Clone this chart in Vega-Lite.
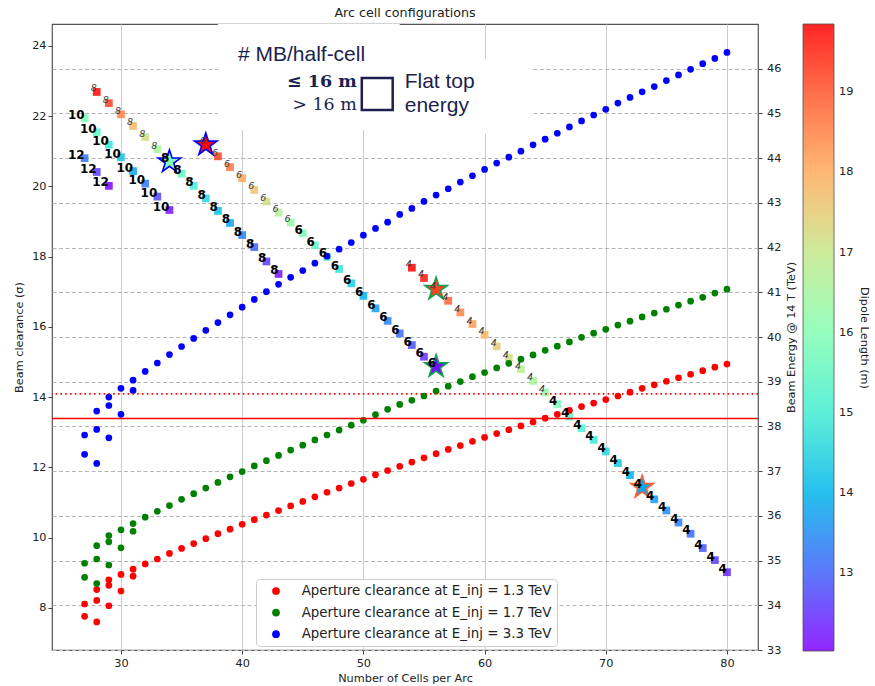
{
"$schema": "https://vega.github.io/schema/vega-lite/v6.json",
"width": 706, "height": 626,
"autosize": {"type": "none"},
"padding": {"left": 52, "top": 24, "right": 117, "bottom": 36},
"title": {"text": "Arc cell configurations", "fontSize": 12.7, "font": "DejaVu Sans", "fontWeight": "normal", "color": "#222", "offset": 4, "anchor": "middle"},
"config": {
  "view": {"stroke": "#555", "strokeWidth": 1.2},
  "font": "DejaVu Sans",
  "axis": {"labelFont": "DejaVu Sans", "titleFont": "DejaVu Sans", "labelFontSize": 11.3, "titleFontSize": 11.3, "titleFontWeight": "normal", "labelColor": "#222", "titleColor": "#222", "tickColor": "#444", "tickSize": 4, "domain": false}
},
"datasets": {
"squares": [
{"N":27,"E":44.00,"L":13.25,"n":12},{"N":28,"E":43.69,"L":12.6,"n":12},{"N":29,"E":43.38,"L":12.05,"n":12},
{"N":27,"E":44.89,"L":15.9,"n":10},{"N":28,"E":44.58,"L":15.35,"n":10},{"N":29,"E":44.30,"L":14.8,"n":10},{"N":30,"E":44.02,"L":14.3,"n":10},{"N":31,"E":43.71,"L":13.8,"n":10},{"N":32,"E":43.43,"L":13.25,"n":10},{"N":33,"E":43.14,"L":12.75,"n":10},{"N":34,"E":42.84,"L":12.2,"n":10},
{"N":28,"E":45.48,"L":19.85,"n":8},{"N":29,"E":45.23,"L":19.2,"n":8},{"N":30,"E":44.98,"L":18.5,"n":8},{"N":31,"E":44.72,"L":17.8,"n":8},{"N":32,"E":44.47,"L":17.2,"n":8},{"N":33,"E":44.20,"L":16.6,"n":8},{"N":34,"E":43.92,"L":15.98,"n":8},{"N":35,"E":43.65,"L":15.5,"n":8},{"N":36,"E":43.38,"L":15.0,"n":8},{"N":37,"E":43.10,"L":14.6,"n":8},{"N":38,"E":42.82,"L":14.2,"n":8},{"N":39,"E":42.55,"L":13.8,"n":8},{"N":40,"E":42.28,"L":13.4,"n":8},{"N":41,"E":42.01,"L":13.0,"n":8},{"N":42,"E":41.69,"L":12.6,"n":8},{"N":43,"E":41.41,"L":12.2,"n":8},
{"N":37,"E":44.30,"L":19.8,"n":6},{"N":38,"E":44.04,"L":19.25,"n":6},{"N":39,"E":43.80,"L":18.65,"n":6},{"N":40,"E":43.55,"L":18.05,"n":6},{"N":41,"E":43.29,"L":17.6,"n":6},{"N":42,"E":43.03,"L":17.15,"n":6},{"N":43,"E":42.78,"L":16.7,"n":6},{"N":44,"E":42.56,"L":16.3,"n":6},{"N":45,"E":42.32,"L":15.9,"n":6},{"N":46,"E":42.05,"L":15.5,"n":6},{"N":47,"E":41.79,"L":15.2,"n":6},{"N":48,"E":41.52,"L":14.8,"n":6},{"N":49,"E":41.20,"L":14.4,"n":6},{"N":50,"E":40.92,"L":14.0,"n":6},{"N":51,"E":40.64,"L":13.7,"n":6},{"N":52,"E":40.36,"L":13.4,"n":6},{"N":53,"E":40.08,"L":13.1,"n":6},{"N":54,"E":39.82,"L":12.8,"n":6},{"N":55,"E":39.56,"L":12.5,"n":6},{"N":56,"E":39.34,"L":12.2,"n":6},
{"N":54,"E":41.55,"L":19.85,"n":4},{"N":55,"E":41.32,"L":19.6,"n":4},{"N":56,"E":41.07,"L":19.2,"n":4},{"N":57,"E":40.81,"L":18.9,"n":4},{"N":58,"E":40.55,"L":18.5,"n":4},{"N":59,"E":40.29,"L":18.2,"n":4},{"N":60,"E":40.05,"L":17.9,"n":4},{"N":61,"E":39.79,"L":17.5,"n":4},{"N":62,"E":39.53,"L":17.2,"n":4},{"N":63,"E":39.28,"L":16.8,"n":4},{"N":64,"E":39.02,"L":16.5,"n":4},{"N":65,"E":38.76,"L":16.2,"n":4},{"N":66,"E":38.50,"L":15.9,"n":4},{"N":67,"E":38.22,"L":15.5,"n":4},{"N":68,"E":37.96,"L":15.2,"n":4},{"N":69,"E":37.70,"L":14.9,"n":4},{"N":70,"E":37.44,"L":14.6,"n":4},{"N":71,"E":37.18,"L":14.3,"n":4},{"N":72,"E":36.91,"L":14.0,"n":4},{"N":73,"E":36.64,"L":13.85,"n":4},{"N":74,"E":36.37,"L":13.7,"n":4},{"N":75,"E":36.12,"L":13.5,"n":4},{"N":76,"E":35.85,"L":13.3,"n":4},{"N":77,"E":35.60,"L":13.1,"n":4},{"N":78,"E":35.28,"L":12.9,"n":4},{"N":79,"E":35.01,"L":12.65,"n":4},{"N":80,"E":34.74,"L":12.4,"n":4}
],
"stars": [
{"N":34,"E":43.92,"L":15.98,"inj":"3.3"},{"N":37,"E":44.30,"L":19.8,"inj":"3.3"},{"N":56,"E":41.07,"L":19.2,"inj":"1.7"},{"N":56,"E":39.34,"L":12.2,"inj":"1.7"},{"N":73,"E":36.64,"L":13.85,"inj":"1.3"}
],
"circles": [
{"N":27,"B":8.11,"s":"1.3"},{"N":27,"B":7.76,"s":"1.3"},{"N":28,"B":8.52,"s":"1.3"},{"N":28,"B":8.21,"s":"1.3"},{"N":28,"B":7.60,"s":"1.3"},{"N":29,"B":8.80,"s":"1.3"},{"N":29,"B":8.64,"s":"1.3"},{"N":29,"B":8.06,"s":"1.3"},{"N":30,"B":8.95,"s":"1.3"},{"N":30,"B":8.48,"s":"1.3"},{"N":31,"B":9.10,"s":"1.3"},{"N":31,"B":8.90,"s":"1.3"},
{"N":32,"B":9.25,"s":"1.3"},{"N":33,"B":9.39,"s":"1.3"},{"N":34,"B":9.55,"s":"1.3"},{"N":35,"B":9.69,"s":"1.3"},{"N":36,"B":9.83,"s":"1.3"},{"N":37,"B":9.97,"s":"1.3"},{"N":38,"B":10.11,"s":"1.3"},{"N":39,"B":10.24,"s":"1.3"},{"N":40,"B":10.38,"s":"1.3"},{"N":41,"B":10.51,"s":"1.3"},{"N":42,"B":10.64,"s":"1.3"},{"N":43,"B":10.77,"s":"1.3"},{"N":44,"B":10.90,"s":"1.3"},{"N":45,"B":11.03,"s":"1.3"},{"N":46,"B":11.16,"s":"1.3"},{"N":47,"B":11.29,"s":"1.3"},{"N":48,"B":11.41,"s":"1.3"},{"N":49,"B":11.54,"s":"1.3"},{"N":50,"B":11.66,"s":"1.3"},{"N":51,"B":11.79,"s":"1.3"},{"N":52,"B":11.91,"s":"1.3"},{"N":53,"B":12.03,"s":"1.3"},{"N":54,"B":12.15,"s":"1.3"},{"N":55,"B":12.27,"s":"1.3"},{"N":56,"B":12.39,"s":"1.3"},{"N":57,"B":12.51,"s":"1.3"},{"N":58,"B":12.62,"s":"1.3"},{"N":59,"B":12.74,"s":"1.3"},{"N":60,"B":12.85,"s":"1.3"},{"N":61,"B":12.96,"s":"1.3"},{"N":62,"B":13.07,"s":"1.3"},{"N":63,"B":13.18,"s":"1.3"},{"N":64,"B":13.29,"s":"1.3"},{"N":65,"B":13.40,"s":"1.3"},{"N":66,"B":13.51,"s":"1.3"},{"N":67,"B":13.62,"s":"1.3"},{"N":68,"B":13.73,"s":"1.3"},{"N":69,"B":13.83,"s":"1.3"},{"N":70,"B":13.93,"s":"1.3"},{"N":71,"B":14.03,"s":"1.3"},{"N":72,"B":14.14,"s":"1.3"},{"N":73,"B":14.25,"s":"1.3"},{"N":74,"B":14.35,"s":"1.3"},{"N":75,"B":14.45,"s":"1.3"},{"N":76,"B":14.55,"s":"1.3"},{"N":77,"B":14.65,"s":"1.3"},{"N":78,"B":14.75,"s":"1.3"},{"N":79,"B":14.85,"s":"1.3"},{"N":80,"B":14.94,"s":"1.3"},
{"N":27,"B":9.27,"s":"1.7"},{"N":27,"B":8.87,"s":"1.7"},{"N":28,"B":9.77,"s":"1.7"},{"N":28,"B":9.39,"s":"1.7"},{"N":28,"B":8.69,"s":"1.7"},{"N":29,"B":10.06,"s":"1.7"},{"N":29,"B":9.88,"s":"1.7"},{"N":29,"B":9.22,"s":"1.7"},{"N":30,"B":10.22,"s":"1.7"},{"N":30,"B":9.71,"s":"1.7"},{"N":31,"B":10.40,"s":"1.7"},{"N":31,"B":10.18,"s":"1.7"},
{"N":32,"B":10.58,"s":"1.7"},{"N":33,"B":10.75,"s":"1.7"},{"N":34,"B":10.91,"s":"1.7"},{"N":35,"B":11.09,"s":"1.7"},{"N":36,"B":11.25,"s":"1.7"},{"N":37,"B":11.41,"s":"1.7"},{"N":38,"B":11.57,"s":"1.7"},{"N":39,"B":11.73,"s":"1.7"},{"N":40,"B":11.88,"s":"1.7"},{"N":41,"B":12.04,"s":"1.7"},{"N":42,"B":12.19,"s":"1.7"},{"N":43,"B":12.34,"s":"1.7"},{"N":44,"B":12.49,"s":"1.7"},{"N":45,"B":12.63,"s":"1.7"},{"N":46,"B":12.78,"s":"1.7"},{"N":47,"B":12.92,"s":"1.7"},{"N":48,"B":13.06,"s":"1.7"},{"N":49,"B":13.20,"s":"1.7"},{"N":50,"B":13.34,"s":"1.7"},{"N":51,"B":13.50,"s":"1.7"},{"N":52,"B":13.65,"s":"1.7"},{"N":53,"B":13.79,"s":"1.7"},{"N":54,"B":13.91,"s":"1.7"},{"N":55,"B":14.03,"s":"1.7"},{"N":56,"B":14.17,"s":"1.7"},{"N":57,"B":14.31,"s":"1.7"},{"N":58,"B":14.44,"s":"1.7"},{"N":59,"B":14.58,"s":"1.7"},{"N":60,"B":14.70,"s":"1.7"},{"N":61,"B":14.83,"s":"1.7"},{"N":62,"B":14.96,"s":"1.7"},{"N":63,"B":15.08,"s":"1.7"},{"N":64,"B":15.20,"s":"1.7"},{"N":65,"B":15.33,"s":"1.7"},{"N":66,"B":15.45,"s":"1.7"},{"N":67,"B":15.57,"s":"1.7"},{"N":68,"B":15.70,"s":"1.7"},{"N":69,"B":15.82,"s":"1.7"},{"N":70,"B":15.93,"s":"1.7"},{"N":71,"B":16.05,"s":"1.7"},{"N":72,"B":16.16,"s":"1.7"},{"N":73,"B":16.28,"s":"1.7"},{"N":74,"B":16.39,"s":"1.7"},{"N":75,"B":16.50,"s":"1.7"},{"N":76,"B":16.62,"s":"1.7"},{"N":77,"B":16.73,"s":"1.7"},{"N":78,"B":16.84,"s":"1.7"},{"N":79,"B":16.96,"s":"1.7"},{"N":80,"B":17.07,"s":"1.7"},
{"N":27,"B":12.92,"s":"3.3"},{"N":27,"B":12.37,"s":"3.3"},{"N":28,"B":13.60,"s":"3.3"},{"N":28,"B":13.08,"s":"3.3"},{"N":28,"B":12.11,"s":"3.3"},{"N":29,"B":14.00,"s":"3.3"},{"N":29,"B":13.76,"s":"3.3"},{"N":29,"B":12.84,"s":"3.3"},{"N":30,"B":14.25,"s":"3.3"},{"N":30,"B":13.51,"s":"3.3"},{"N":31,"B":14.48,"s":"3.3"},{"N":31,"B":14.19,"s":"3.3"},
{"N":32,"B":14.73,"s":"3.3"},{"N":33,"B":14.97,"s":"3.3"},{"N":34,"B":15.21,"s":"3.3"},{"N":35,"B":15.44,"s":"3.3"},{"N":36,"B":15.67,"s":"3.3"},{"N":37,"B":15.90,"s":"3.3"},{"N":38,"B":16.12,"s":"3.3"},{"N":39,"B":16.34,"s":"3.3"},{"N":40,"B":16.56,"s":"3.3"},{"N":41,"B":16.78,"s":"3.3"},{"N":42,"B":17.00,"s":"3.3"},{"N":43,"B":17.21,"s":"3.3"},{"N":44,"B":17.41,"s":"3.3"},{"N":45,"B":17.60,"s":"3.3"},{"N":46,"B":17.81,"s":"3.3"},{"N":47,"B":18.01,"s":"3.3"},{"N":48,"B":18.21,"s":"3.3"},{"N":49,"B":18.40,"s":"3.3"},{"N":50,"B":18.61,"s":"3.3"},{"N":51,"B":18.80,"s":"3.3"},{"N":52,"B":18.98,"s":"3.3"},{"N":53,"B":19.20,"s":"3.3"},{"N":54,"B":19.37,"s":"3.3"},{"N":55,"B":19.57,"s":"3.3"},{"N":56,"B":19.75,"s":"3.3"},{"N":57,"B":19.93,"s":"3.3"},{"N":58,"B":20.12,"s":"3.3"},{"N":59,"B":20.30,"s":"3.3"},{"N":60,"B":20.48,"s":"3.3"},{"N":61,"B":20.66,"s":"3.3"},{"N":62,"B":20.83,"s":"3.3"},{"N":63,"B":21.00,"s":"3.3"},{"N":64,"B":21.18,"s":"3.3"},{"N":65,"B":21.34,"s":"3.3"},{"N":66,"B":21.51,"s":"3.3"},{"N":67,"B":21.69,"s":"3.3"},{"N":68,"B":21.86,"s":"3.3"},{"N":69,"B":22.03,"s":"3.3"},{"N":70,"B":22.19,"s":"3.3"},{"N":71,"B":22.37,"s":"3.3"},{"N":72,"B":22.53,"s":"3.3"},{"N":73,"B":22.69,"s":"3.3"},{"N":74,"B":22.84,"s":"3.3"},{"N":75,"B":23.01,"s":"3.3"},{"N":76,"B":23.17,"s":"3.3"},{"N":77,"B":23.33,"s":"3.3"},{"N":78,"B":23.49,"s":"3.3"},{"N":79,"B":23.64,"s":"3.3"},{"N":80,"B":23.81,"s":"3.3"}
]
},
"layer": [
{
  "data": {"name": "squares"},
  "mark": {"type": "square", "size": 60, "opacity": 0.85},
  "encoding": {
    "x": {"field": "N", "type": "quantitative", "scale": {"domain": [24.31, 82.56], "nice": false, "zero": false}, "axis": {"values": [30,40,50,60,70,80], "title": "Number of Cells per Arc", "grid": true, "gridColor": "#cccccc", "gridWidth": 1, "labelPadding": 3, "titlePadding": 4, "format": "d"}},
    "y": {"field": "E", "type": "quantitative", "scale": {"domain": [33, 47.0], "nice": false, "zero": false}, "axis": {"orient": "right", "values": [33,34,35,36,37,38,39,40,41,42,43,44,45,46], "title": "Beam Energy @ 14 T (TeV)", "titleAngle": 270, "titleBaseline": "top", "grid": true, "gridDash": [4, 2.5], "gridColor": "#b5b5b5", "gridWidth": 1, "labelPadding": 4.5, "titlePadding": 5, "format": "d"}},
    "color": {"field": "L", "type": "quantitative",
      "scale": {"type": "linear", "domain": [12.03, 13.0075, 13.985, 14.9625, 15.94, 16.9175, 17.895, 18.8725, 19.85], "range": ["#8000ff","#4062fa","#00b4eb","#40ecd4","#80ffb4","#bfec8e","#ffb462","#ff6232","#ff0000"], "interpolate": "rgb"},
      "legend": {"orient": "none", "legendX": 751, "legendY": 0, "direction": "vertical", "gradientLength": 627, "gradientThickness": 31, "gradientStrokeColor": "#333", "gradientStrokeWidth": 0.8, "values": [13,14,15,16,17,18,19], "format": "d", "labelFontSize": 11.3, "labelFont": "DejaVu Sans", "labelColor": "#222", "labelOffset": 5, "title": "Dipole Length (m)", "titleOrient": "right", "titleFontSize": 11.3, "titleFontWeight": "normal", "titleFont": "DejaVu Sans", "titleColor": "#222", "titlePadding": 6, "titleAnchor": "middle", "padding": 0,
        "encode": {"title": {"update": {"angle": {"value": 270}, "align": {"value": "center"}, "baseline": {"value": "top"}}}}}}
  }
},
{
  "layer": [
    {
      "data": {"values": [{}]},
      "mark": {"type": "rect", "fill": "white"},
      "encoding": {"x": {"datum": 38.0}, "x2": {"datum": 53.0}, "y": {"datum": 24.62}, "y2": {"datum": 21.6}}
    },
    {
      "data": {"values": [{}]},
      "mark": {"type": "rect", "fill": "white"},
      "encoding": {"x": {"datum": 53.0}, "x2": {"datum": 63.8}, "y": {"datum": 23.64}, "y2": {"datum": 21.49}}
    },
    {
      "data": {"name": "circles"},
      "mark": {"type": "circle", "size": 45, "opacity": 1},
      "encoding": {
        "x": {"field": "N", "type": "quantitative", "scale": {"domain": [24.31, 82.56], "nice": false, "zero": false}, "axis": {"values": [30,40,50,60,70,80], "title": "Number of Cells per Arc", "grid": true, "gridColor": "#cccccc", "gridWidth": 1, "labelPadding": 3, "titlePadding": 4, "format": "d"}},
        "y": {"field": "B", "type": "quantitative", "scale": {"domain": [6.8, 24.62], "nice": false, "zero": false}, "axis": {"orient": "left", "values": [8,10,12,14,16,18,20,22,24], "title": "Beam clearance (σ)", "grid": false, "labelPadding": 2, "titlePadding": 7}},
        "fill": {"field": "s", "type": "nominal", "scale": {"domain": ["1.3","1.7","3.3"], "range": ["#ff0000","#008000","#0000ff"]},
          "legend": {"orient": "none", "legendX": 204, "legendY": 555, "title": null, "fillColor": "white", "strokeColor": "#cccccc", "cornerRadius": 4, "padding": 5.3, "symbolType": "circle", "symbolSize": 60, "symbolStrokeWidth": 0, "symbolOffset": 8, "labelOffset": 19, "labelFontSize": 13.4, "labelFont": "DejaVu Sans", "labelColor": "#222", "rowPadding": 6.6, "labelLimit": 400, "labelExpr": "'Aperture clearance at E_inj = ' + datum.label + ' TeV'"}}
      }
    },
    {
      "data": {"values": [{}]},
      "mark": {"type": "rule", "color": "#ff0000", "strokeWidth": 1.5},
      "encoding": {"y": {"datum": 13.39}}
    },
    {
      "data": {"values": [{}]},
      "mark": {"type": "rule", "color": "#ff0000", "strokeWidth": 1.6, "strokeDash": [1.6, 3.2]},
      "encoding": {"y": {"datum": 14.09}}
    },
    {
      "data": {"values": [{}]},
      "mark": {"type": "text", "align": "left", "baseline": "middle", "font": "Liberation Sans", "fontSize": 21, "color": "#1d1f4f"},
      "encoding": {"x": {"datum": 39.65}, "y": {"datum": 23.73}, "text": {"value": "# MB/half-cell"}}
    },
    {
      "data": {"values": [{}]},
      "mark": {"type": "text", "align": "right", "baseline": "middle", "font": "DejaVu Serif", "fontWeight": "bold", "fontSize": 17.5, "color": "#1d1f4f"},
      "encoding": {"x": {"datum": 49.46}, "y": {"datum": 22.96}, "text": {"value": "≤ 16 m"}}
    },
    {
      "data": {"values": [{}]},
      "mark": {"type": "text", "align": "right", "baseline": "middle", "font": "DejaVu Serif", "fontSize": 17.5, "color": "#1d1f4f"},
      "encoding": {"x": {"datum": 49.46}, "y": {"datum": 22.31}, "text": {"value": "> 16 m"}}
    },
    {
      "data": {"values": [{}]},
      "mark": {"type": "rect", "fillOpacity": 0, "stroke": "#1d1f4f", "strokeWidth": 2.5},
      "encoding": {"x": {"datum": 49.87}, "x2": {"datum": 52.42}, "y": {"datum": 23.08}, "y2": {"datum": 22.17}}
    },
    {
      "data": {"values": [{}]},
      "mark": {"type": "text", "align": "left", "baseline": "middle", "font": "Liberation Sans", "fontSize": 21, "color": "#1d1f4f"},
      "encoding": {"x": {"datum": 53.41}, "y": {"datum": 22.96}, "text": {"value": "Flat top"}}
    },
    {
      "data": {"values": [{}]},
      "mark": {"type": "text", "align": "left", "baseline": "middle", "font": "Liberation Sans", "fontSize": 21, "color": "#1d1f4f"},
      "encoding": {"x": {"datum": 53.41}, "y": {"datum": 22.28}, "text": {"value": "energy"}}
    }
  ]
},
{
  "layer": [
    {
      "data": {"name": "stars"},
      "mark": {"type": "point", "shape": "M0,-1L0.2245,-0.309L0.9511,-0.309L0.3633,0.118L0.5878,0.809L0,0.382L-0.5878,0.809L-0.3633,0.118L-0.9511,-0.309L-0.2245,-0.309Z", "size": 560, "filled": true, "strokeWidth": 1.6, "opacity": 1},
      "encoding": {
        "x": {"field": "N", "type": "quantitative", "scale": {"domain": [24.31, 82.56], "nice": false, "zero": false}},
        "y": {"field": "E", "type": "quantitative", "scale": {"domain": [33, 47.0], "nice": false, "zero": false}, "axis": null},
        "color": {"field": "L", "type": "quantitative", "scale": {"type": "linear", "domain": [12.03, 13.0075, 13.985, 14.9625, 15.94, 16.9175, 17.895, 18.8725, 19.85], "range": ["#8000ff","#4062fa","#00b4eb","#40ecd4","#80ffb4","#bfec8e","#ffb462","#ff6232","#ff0000"], "interpolate": "rgb"}},
        "stroke": {"field": "inj", "type": "nominal", "scale": {"domain": ["3.3","1.7","1.3"], "range": ["#0000ff","#12a150","#ff5a36"]}, "legend": null}
      }
    },
    {
      "data": {"name": "squares"},
      "transform": [{"filter": "datum.L <= 16"}],
      "mark": {"type": "text", "align": "right", "baseline": "middle", "dy": -3.5, "font": "DejaVu Sans", "fontWeight": "bold", "fontSize": 12, "color": "#000000"},
      "encoding": {
        "x": {"field": "N", "type": "quantitative", "scale": {"domain": [24.31, 82.56], "nice": false, "zero": false}},
        "y": {"field": "E", "type": "quantitative", "scale": {"domain": [33, 47.0], "nice": false, "zero": false}, "axis": null},
        "text": {"field": "n", "type": "nominal"}
      }
    },
    {
      "data": {"name": "squares"},
      "transform": [{"filter": "datum.L > 16"}],
      "mark": {"type": "text", "align": "right", "baseline": "middle", "dy": -3.5, "font": "DejaVu Sans", "fontStyle": "italic", "fontSize": 9.5, "color": "#3a3a3a"},
      "encoding": {
        "x": {"field": "N", "type": "quantitative", "scale": {"domain": [24.31, 82.56], "nice": false, "zero": false}},
        "y": {"field": "E", "type": "quantitative", "scale": {"domain": [33, 47.0], "nice": false, "zero": false}, "axis": null},
        "text": {"field": "n", "type": "nominal"}
      }
    }
  ]
}
],
"resolve": {"scale": {"y": "independent"}}
}
